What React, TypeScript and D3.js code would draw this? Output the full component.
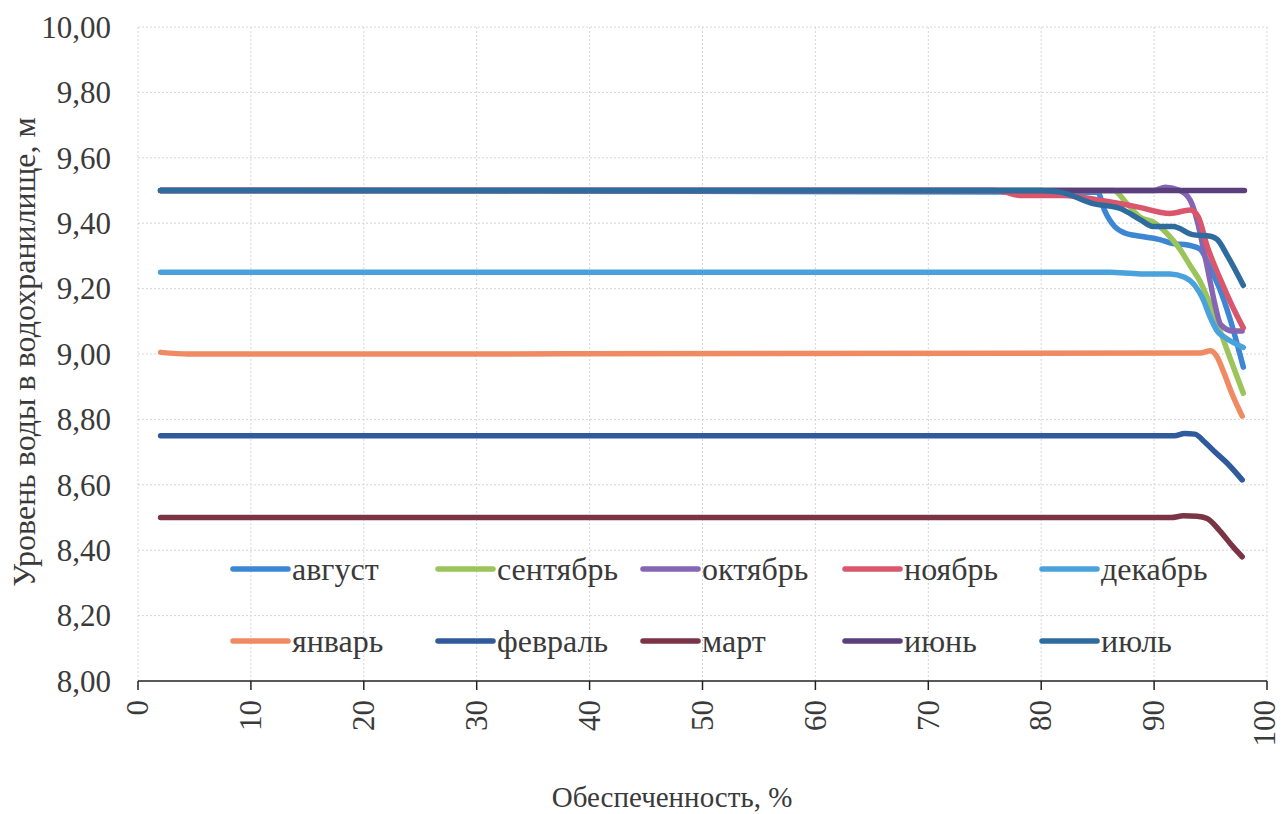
import React from "react";
import * as d3 from "d3";

type Pt = [number, number];

// Обеспеченность (%) → уровень воды (м) for each month
const august: Pt[] = [[2, 9.5], [85.0, 9.495], [85.6, 9.44], [86.5, 9.39], [87.4, 9.37], [88.8, 9.36], [90.5, 9.35], [91.4, 9.34], [93.4, 9.33], [94.1, 9.32], [95.0, 9.26], [95.8, 9.2], [96.7, 9.11], [97.9, 8.96]];
const september: Pt[] = [[2, 9.5], [86.4, 9.5], [87.6, 9.46], [88.7, 9.42], [90.1, 9.4], [91.1, 9.37], [92.3, 9.32], [93.2, 9.27], [94.1, 9.22], [95.2, 9.13], [96.7, 8.99], [97.9, 8.88]];
const october: Pt[] = [[2, 9.5], [90.0, 9.5], [91.0, 9.51], [92.3, 9.5], [93.2, 9.47], [93.8, 9.41], [94.2, 9.35], [94.8, 9.25], [95.4, 9.15], [95.9, 9.09], [97.0, 9.07], [97.8, 9.07]];
const november: Pt[] = [[2, 9.5], [75.9, 9.5], [76.8, 9.495], [78.1, 9.485], [82.0, 9.485], [85.2, 9.47], [88.5, 9.45], [91.4, 9.43], [93.2, 9.44], [93.9, 9.42], [94.7, 9.33], [96.1, 9.21], [97.3, 9.12], [97.9, 9.08]];
const december: Pt[] = [[2, 9.25], [86.0, 9.25], [88.8, 9.245], [91.4, 9.245], [92.7, 9.235], [93.6, 9.21], [94.3, 9.17], [95.0, 9.11], [95.6, 9.07], [96.3, 9.05], [97.9, 9.02]];
const january: Pt[] = [[2, 9.005], [4.5, 9.0], [94.1, 9.003], [95.0, 9.01], [95.6, 8.99], [96.1, 8.95], [97.0, 8.87], [97.8, 8.81]];
const february: Pt[] = [[2, 8.75], [91.8, 8.75], [92.7, 8.757], [93.6, 8.755], [94.5, 8.73], [95.4, 8.7], [96.5, 8.665], [97.8, 8.615]];
const march: Pt[] = [[2, 8.5], [91.5, 8.5], [92.6, 8.505], [93.8, 8.504], [94.7, 8.497], [95.8, 8.46], [97.0, 8.41], [97.8, 8.38]];
const june: Pt[] = [[2, 9.5], [98, 9.5]];
const july: Pt[] = [[2, 9.5], [79.9, 9.5], [81.7, 9.495], [84.6, 9.46], [87.0, 9.445], [88.8, 9.41], [89.9, 9.39], [91.7, 9.39], [93.4, 9.365], [95.0, 9.36], [95.6, 9.35], [96.5, 9.3], [97.9, 9.21]];

const seriesNames = ["август", "сентябрь", "октябрь", "ноябрь", "декабрь", "январь", "февраль", "март", "июнь", "июль"];
const seriesValues: Pt[][] = [august, september, october, november, december, january, february, march, june, july];
const seriesColors = ["#3d86d4", "#9bc45a", "#8466b4", "#d9566c", "#4aa2dc", "#ef8a62", "#2f5a9c", "#7a3446", "#5a3f7c", "#2f6c9e"];

const xTicks = [0, 10, 20, 30, 40, 50, 60, 70, 80, 90, 100];
const yTicks = [8.0, 8.2, 8.4, 8.6, 8.8, 9.0, 9.2, 9.4, 9.6, 9.8, 10.0];

const xTitle = "Обеспеченность, %";
const yTitle = "Уровень воды в водохранилище, м";

const W = 1281;
const H = 814;
const FONT = "Liberation Serif";
const TEXT = "#3a3a3a";

export default function App() {
  const x = d3.scaleLinear().domain([0, 100]).range([138, 1267]);
  const y = d3.scaleLinear().domain([8, 10]).range([681, 27]);
  const line = d3
    .line<Pt>()
    .x((d) => x(d[0]))
    .y((d) => y(d[1]))
    .curve(d3.curveMonotoneX);
  const fmt = (v: number) => d3.format(".2f")(v).replace(".", ",");

  // legend layout: two rows of five
  const legendCols = [233, 438, 643, 845, 1042];
  const legendRows = [569, 641];

  return (
    <div style={{ position: "absolute", left: 0, top: 0, fontFamily: FONT }}>
      <svg width={W} height={H} fontFamily={FONT} style={{ display: "block", background: "#fff" }}>
        <style>{`text { font-family: "Liberation Serif", serif; }`}</style>
        {/* grid */}
        <g stroke="#d6d6d6" strokeWidth={1} strokeDasharray="2,2">
          {yTicks.slice(1).map((t) => (
            <line key={"gy" + t} x1={x(0)} x2={x(100)} y1={y(t)} y2={y(t)} />
          ))}
          {xTicks.map((t) => (
            <line key={"gx" + t} x1={x(t)} x2={x(t)} y1={y(8)} y2={y(10)} />
          ))}
        </g>

        {/* y tick labels */}
        <g fill={TEXT} fontSize={31} textAnchor="end">
          {yTicks.map((t) => (
            <text key={"yl" + t} x={111} y={y(t)} dy="0.35em">
              {fmt(t)}
            </text>
          ))}
        </g>

        {/* x axis */}
        <g stroke="#222" strokeWidth={1.5}>
          <line x1={x(0)} x2={x(100)} y1={y(8)} y2={y(8)} />
          {xTicks.map((t) => (
            <line key={"xt" + t} x1={x(t)} x2={x(t)} y1={y(8)} y2={y(8) + 9} />
          ))}
        </g>
        <g fill={TEXT} fontSize={31} textAnchor="end">
          {xTicks.map((t) => (
            <text key={"xl" + t} transform={`translate(${Math.min(x(t), 1265)},${y(8) + 19}) rotate(-90)`} dy="0.33em">
              {t}
            </text>
          ))}
        </g>

        {/* series */}
        <g fill="none" strokeWidth={5.5} strokeLinecap="round" strokeLinejoin="round">
          {seriesValues.map((s, i) => (
            <path key={seriesNames[i]} d={line(s) || ""} stroke={seriesColors[i]} />
          ))}
        </g>

        {/* legend */}
        <g fontSize={32} fill={TEXT}>
          {seriesNames.map((n, i) => {
            const cx = legendCols[i % 5];
            const cy = legendRows[Math.floor(i / 5)];
            return (
              <g key={"lg" + n}>
                <line x1={cx} x2={cx + 55} y1={cy} y2={cy} stroke={seriesColors[i]} strokeWidth={5.5} strokeLinecap="round" />
                <text x={cx + 59} y={cy} dy="0.33em">
                  {n}
                </text>
              </g>
            );
          })}
        </g>

        {/* axis titles */}
        <text x={672} y={807} fontSize={29} fill={TEXT} textAnchor="middle">
          {xTitle}
        </text>
        <text transform="translate(35,352) rotate(-90)" fontSize={32} fill={TEXT} textAnchor="middle">
          {yTitle}
        </text>
      </svg>
    </div>
  );
}
